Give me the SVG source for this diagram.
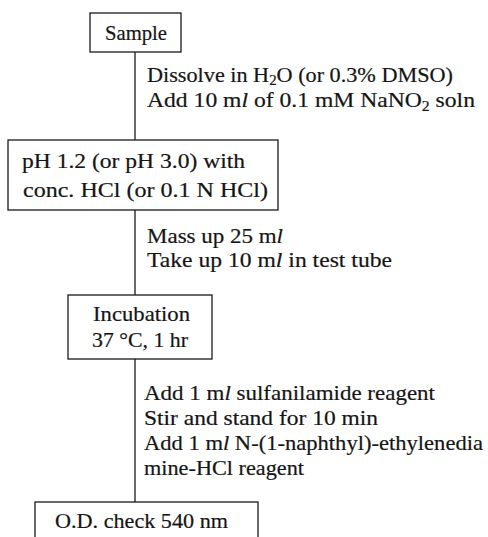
<svg xmlns="http://www.w3.org/2000/svg" width="488" height="537" viewBox="0 0 488 537">
<style>
.box{fill:none;stroke:#1a1a1a;stroke-width:1.3}
.ln{stroke:#1a1a1a;stroke-width:1.3;fill:none}
text{font-family:"Liberation Serif","Times New Roman",serif;font-size:21px;fill:#151515;stroke:#151515;stroke-width:0.2}
.sub{font-size:14px}
.it{font-style:italic}
</style>
<rect width="488" height="537" fill="#fff"/>
<g id="connectors">
<line class="ln" x1="135" y1="52" x2="135" y2="140"/>
<line class="ln" x1="135" y1="210" x2="135" y2="295"/>
<line class="ln" x1="135" y1="359" x2="135" y2="502"/>
</g>
<g id="labels">
<text x="147" y="82" textLength="306" lengthAdjust="spacingAndGlyphs">Dissolve in H<tspan class="sub" dy="3">2</tspan><tspan dy="-3">O (or 0.3% DMSO)</tspan></text>
<text x="147" y="107" textLength="328" lengthAdjust="spacingAndGlyphs">Add 10 m<tspan class="it">l</tspan> of 0.1 mM NaNO<tspan class="sub" dy="4">2</tspan><tspan dy="-4"> soln</tspan></text>
<text x="147" y="243" textLength="136" lengthAdjust="spacingAndGlyphs">Mass up 25 m<tspan class="it">l</tspan></text>
<text x="147" y="267" textLength="245" lengthAdjust="spacingAndGlyphs">Take up 10 m<tspan class="it">l</tspan> in test tube</text>
<text x="144" y="400" textLength="291" lengthAdjust="spacingAndGlyphs">Add 1 m<tspan class="it">l</tspan> sulfanilamide reagent</text>
<text x="144" y="425" textLength="234" lengthAdjust="spacingAndGlyphs">Stir and stand for 10 min</text>
<text x="144" y="450" textLength="339" lengthAdjust="spacingAndGlyphs">Add 1 m<tspan class="it">l</tspan> N-(1-naphthyl)-ethylenedia</text>
<text x="144" y="475" textLength="160" lengthAdjust="spacingAndGlyphs">mine-HCl reagent</text>
</g>
<g id="sample">
<rect class="box" x="90" y="13" width="91" height="39"/>
<text x="105" y="40" textLength="62" lengthAdjust="spacingAndGlyphs">Sample</text>
</g>
<g id="ph">
<rect class="box" x="8" y="140" width="270" height="70"/>
<text x="22" y="168" textLength="223" lengthAdjust="spacingAndGlyphs">pH 1.2 (or pH 3.0) with</text>
<text x="23" y="197" textLength="245" lengthAdjust="spacingAndGlyphs">conc. HCl (or 0.1 N HCl)</text>
</g>
<g id="incubation">
<rect class="box" x="68" y="295" width="144" height="64"/>
<text x="93" y="321" textLength="97" lengthAdjust="spacingAndGlyphs">Incubation</text>
<text x="92" y="347" textLength="96" lengthAdjust="spacingAndGlyphs">37 °C, 1 hr</text>
</g>
<g id="od">
<rect class="box" x="35" y="502" width="223" height="50"/>
<text x="55" y="528" textLength="173" lengthAdjust="spacingAndGlyphs">O.D. check 540 nm</text>
</g>
</svg>
